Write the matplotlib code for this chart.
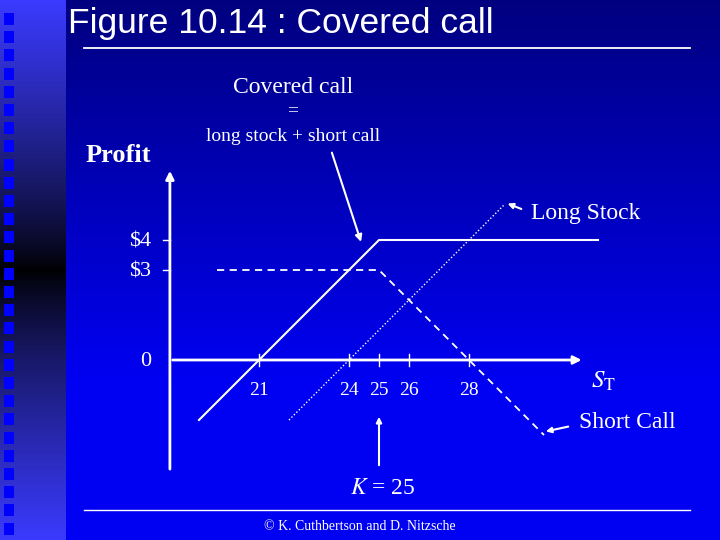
import numpy as np
import matplotlib.pyplot as plt

# ---------------------------------------------------------
# Payoff data (stock price at expiry vs profit)
# ---------------------------------------------------------
covered_s = [19, 25, 32.3]
covered_p = [-2, 4, 4]

long_s = [22, 29.15]
long_p = [-2, 5.15]

short_s = [19.6, 25, 30.5]
short_p = [3, 3, -2.5]

xtick_vals = [21, 24, 25, 26, 28]
xtick_labels = ["21", "24", "25", "26", "28"]
ytick_vals = [4, 3, 0]
ytick_labels = ["$4", "$3", "0"]

serif = "Liberation Serif"
sans = "Liberation Sans"
white = "white"

fig = plt.figure(figsize=(7.2, 5.4), dpi=100)

# ---------------------------------------------------------
# Slide background (pixel coordinates)
# ---------------------------------------------------------
bg = fig.add_axes([0, 0, 1, 1], zorder=0)
bg.axis("off")

rows = np.arange(540)
blue_main = np.clip(0.5 + 0.45 * rows / 380, 0, 0.95)
main_img = np.zeros((540, 1, 3))
main_img[:, 0, 2] = blue_main
bg.imshow(main_img, extent=[66, 720, 540, 0], aspect="auto", interpolation="bilinear")

# left strip: light blue -> black band -> light blue
dist = np.abs(rows - 270) / 270.0
shade = np.clip(dist ** 0.8, 0, 1)
strip_img = np.zeros((540, 1, 3))
strip_img[:, 0, 0] = 0.23 * shade
strip_img[:, 0, 1] = 0.23 * shade
strip_img[:, 0, 2] = 1.0 * shade
bg.imshow(strip_img, extent=[0, 66, 540, 0], aspect="auto", interpolation="bilinear")

for y0 in np.arange(13, 530, 18.2):
    bg.add_patch(plt.Rectangle((4, y0), 10, 12, color="#0000ff", lw=0))

bg.plot([84, 690], [48, 48], color=white, lw=1.3)
bg.plot([84, 690], [510, 510], color=white, lw=1.0)
bg.set_xlim(0, 720)
bg.set_ylim(540, 0)

fig.text(68 / 720, 1 - 24 / 540, "Figure 10.14 : Covered call", color=white,
         fontsize=25.5, family=sans, va="center", ha="left")
fig.text(360 / 720, 1 - 526 / 540, "\u00a9 K. Cuthbertson and D. Nitzsche",
         color=white, fontsize=10, family=serif, ha="center", va="center")

# ---------------------------------------------------------
# Chart axes (data coordinates, 30 px per unit)
# ---------------------------------------------------------
ax = fig.add_axes([0, 0, 1, 1], zorder=1)
ax.patch.set_alpha(0)
ax.axis("off")
ax.set_xlim(371 / 30, (720 + 371) / 30)
ax.set_ylim(-6, 12)

# axes lines
ax.annotate("", xy=(31.85, 0), xytext=(18.03, 0),
            arrowprops=dict(arrowstyle="-|>", color=white, lw=2, mutation_scale=12))
ax.annotate("", xy=(18.03, 6.4), xytext=(18.03, -3.73),
            arrowprops=dict(arrowstyle="-|>", color=white, lw=2, mutation_scale=12))

for xv, lab in zip(xtick_vals, xtick_labels):
    ax.plot([xv, xv], [-0.2, 0.2], color=white, lw=1)
    ax.text(xv, -1.02, lab, color=white, fontsize=14, family=serif, ha="center", va="center")

for yv, lab in zip(ytick_vals, ytick_labels):
    if yv != 0:
        ax.plot([17.8, 18.03], [yv, yv], color=white, lw=1)
    ax.text(17.4, yv - 0.05, lab, color=white, fontsize=16, family=serif, ha="right", va="center")

# payoff lines
ax.plot(covered_s, covered_p, color=white, lw=1.5)
ax.plot(long_s, long_p, color=white, lw=1, ls=(0, (1, 1.5)))
ax.plot(short_s, short_p, color=white, lw=1.3, ls=(0, (4, 3)))

# labels and arrows
ax.text(22.13, 9.08, "Covered call", color=white, fontsize=17, family=serif, ha="center", va="center")
ax.text(22.13, 8.3, "=", color=white, fontsize=14, family=serif, ha="center", va="center")
ax.text(22.13, 7.45, "long stock + short call", color=white, fontsize=14, family=serif,
        ha="center", va="center")
ax.text(15.23, 6.8, "Profit", color=white, fontsize=19, family=serif, weight="bold",
        ha="left", va="center")
ax.annotate("", xy=(24.43, 3.85), xytext=(23.4, 7.0),
            arrowprops=dict(arrowstyle="-|>", color=white, lw=1.5, mutation_scale=10))

ax.text(30.07, 4.9, "Long Stock", color=white, fontsize=17, family=serif, ha="left", va="center")
ax.annotate("", xy=(29.2, 5.25), xytext=(29.83, 5.0),
            arrowprops=dict(arrowstyle="-|>", color=white, lw=1.5, mutation_scale=8))

ax.text(31.67, -2.1, "Short Call", color=white, fontsize=17, family=serif, ha="left", va="center")
ax.annotate("", xy=(30.47, -2.4), xytext=(31.4, -2.2),
            arrowprops=dict(arrowstyle="-|>", color=white, lw=1.5, mutation_scale=8))

ax.text(32.07, -0.72, "$S_{\\mathrm{T}}$", color=white, fontsize=18, family=serif,
        ha="left", va="center", math_fontfamily="stix")

ax.text(25.13, -4.3, "$K$ = 25", color=white, fontsize=17, family=serif, ha="center",
        va="center", math_fontfamily="stix")
ax.annotate("", xy=(25, -1.8), xytext=(25, -3.6),
            arrowprops=dict(arrowstyle="-|>", color=white, lw=1.5, mutation_scale=8))

fig.savefig("out.png", dpi=100)
